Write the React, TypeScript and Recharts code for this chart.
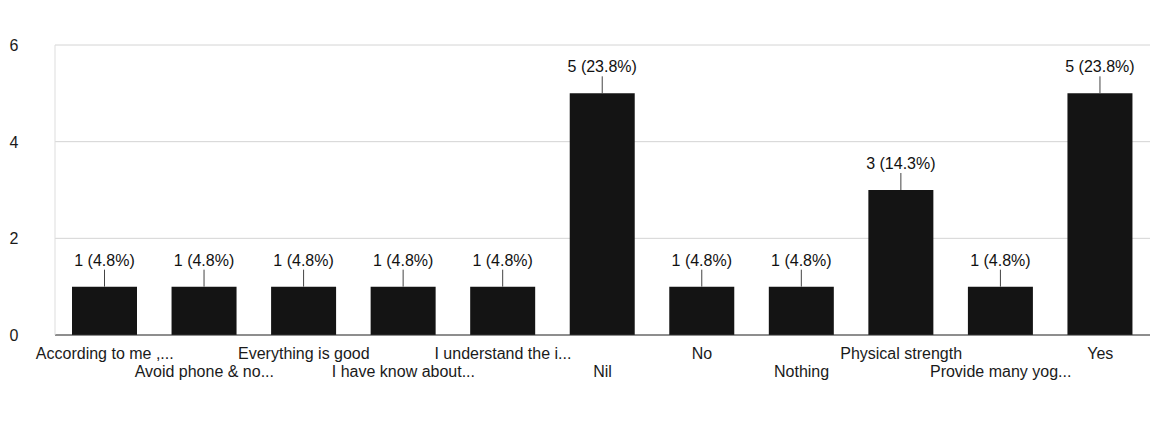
import React from 'react';
import { BarChart, Bar, XAxis, YAxis, CartesianGrid, LabelList } from 'recharts';

const answers = [
  'According to me ,...',
  'Avoid phone & no...',
  'Everything is good',
  'I have know about...',
  'I understand the i...',
  'Nil',
  'No',
  'Nothing',
  'Physical strength',
  'Provide many yog...',
  'Yes',
];
const counts = [1, 1, 1, 1, 1, 5, 1, 1, 3, 1, 5];
const percents = ['4.8', '4.8', '4.8', '4.8', '4.8', '23.8', '4.8', '4.8', '14.3', '4.8', '23.8'];
const yTicks = [0, 2, 4, 6];

const rows = answers.map((answer, i) => ({ answer, count: counts[i], pct: percents[i] }));

const FONT = '"Liberation Sans", Arial, sans-serif';

// labels alternate between two rows, like the Forms summary chart
const XTick = (props: any) => {
  const { x, y, payload, index } = props;
  const i = payload?.index ?? index ?? 0;
  return (
    <text x={x} y={y + (i % 2 ? 34 : 16)} textAnchor="middle" fontFamily={FONT} fontSize={16} fill="#1a1a1a">
      {payload.value}
    </text>
  );
};

const YTick = (props: any) => {
  const { y, payload } = props;
  return (
    <text x={14} y={y + 6} textAnchor="middle" fontFamily={FONT} fontSize={16} fill="#1a1a1a">
      {payload.value}
    </text>
  );
};

const BarLabel = (props: any) => {
  const { x, y, width, index } = props;
  const cx = x + width / 2;
  const row = rows[index];
  return (
    <g>
      <line x1={cx} y1={y} x2={cx} y2={y - 17} stroke="#444" strokeWidth={1} />
      <text x={cx} y={y - 21} textAnchor="middle" fontFamily={FONT} fontSize={16} fill="#111">
        {`${row.count} (${row.pct}%)`}
      </text>
    </g>
  );
};

export default function App() {
  return (
    <div style={{ margin: -8, background: '#fff', width: 1168, height: 427 }}>
      <BarChart
        width={1168}
        height={427}
        data={rows}
        margin={{ top: 45, right: 18, bottom: 52, left: 5 }}
        barCategoryGap={34}
      >
        <CartesianGrid vertical={false} stroke="#d4d4d4" />
        <XAxis
          dataKey="answer"
          interval={0}
          height={40}
          tick={<XTick />}
          tickLine={false}
          axisLine={{ stroke: '#333' }}
        />
        <YAxis
          width={50}
          domain={[0, 6]}
          ticks={yTicks}
          tick={<YTick />}
          tickLine={false}
          axisLine={{ stroke: '#ddd' }}
        />
        <Bar dataKey="count" fill="#141414" barSize={65} isAnimationActive={false}>
          <LabelList dataKey="count" content={<BarLabel />} />
        </Bar>
      </BarChart>
    </div>
  );
}
